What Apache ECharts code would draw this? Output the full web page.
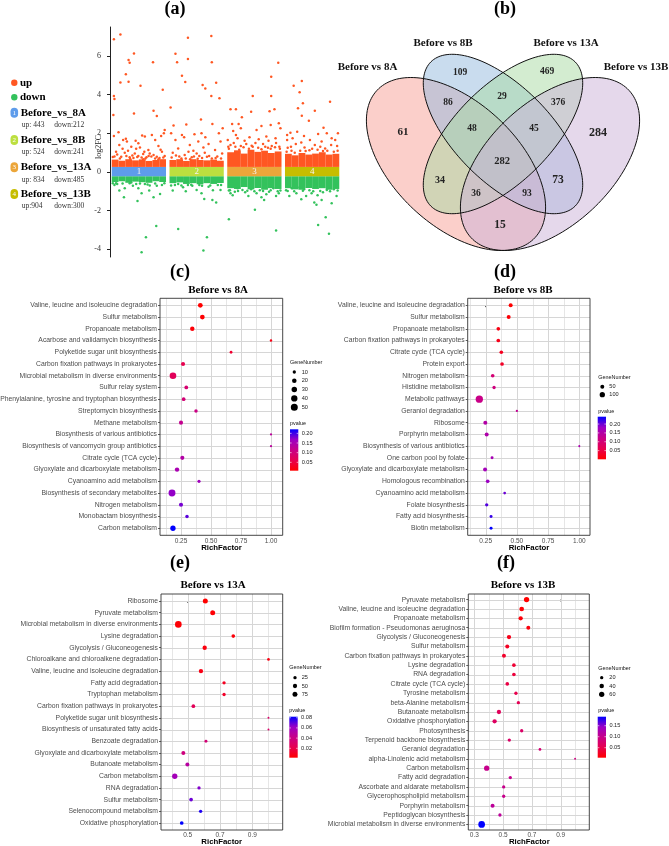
<!DOCTYPE html>
<html>
<head>
<meta charset="utf-8">
<script src="https://cdn.jsdelivr.net/npm/echarts@6.0.0/dist/echarts.min.js"></script>
<style>
html,body{margin:0;padding:0;background:#ffffff;}
#chart{width:669px;height:846px;}
</style>
</head>
<body>
<div id="chart"></div>
<script>
// ================= DATA =================
// ---- Panel (a): log2FC scatter per comparison ----
const groupNames = ['Before_vs_8A', 'Before_vs_8B', 'Before_vs_13A', 'Before_vs_13B'];
const groupUp = [443, 524, 834, 904];
const groupDown = [212, 241, 485, 300];
const aTickValues = [-4, -2, 0, 2, 4, 6];
const bandLimits = [-0.22, 0.26];
// scattered points: [position inside group (0-1), log2FC]
const up1 = [[0.04,6.86],[0.16,7.11],[0.41,6.13],[0.31,5.79],[0.33,5.65],[0.76,5.67],[0.26,5.05],[0.16,4.63],[0.31,4.67],[0.53,4.46],[0.94,4.25],[0.04,3.93],[0.05,3.77],[0.77,3.17],[0.83,2.89],[0.41,3.03],[0.03,2.95],[0.125,2.05],[0.04,1.86],[0.56,1.88],[0.74,1.91],[0.91,1.86],[0.975,2.17],[0.96,2.0],[0.26,1.72],[0.21,1.65],[0.28,1.57],[0.44,1.62],[0.49,1.48],[0.61,1.83],[0.8,1.65],[0.86,1.34],[0.14,1.4],[0.36,1.31],[0.52,1.26],[0.675,1.14],[0.08,1.05],[0.24,1.0],[0.425,0.96],[0.58,0.93],[0.77,0.88],[0.925,1.05],[0.175,0.79],[0.33,0.76],[0.49,0.83],[0.64,0.76],[0.83,0.79],[0.975,0.83],[0.1,0.9],[0.3,1.1],[0.45,1.2],[0.6,1.05],[0.7,0.95],[0.9,1.15],[0.2,1.2],[0.55,0.75],[0.05,0.8],[0.68,0.82],[0.88,0.72],[0.38,0.85],[0.02,0.78],[0.15,0.7],[0.27,0.82],[0.4,0.72],[0.47,0.78],[0.62,0.7],[0.73,0.8],[0.8,0.7],[0.95,0.75],[0.34,0.68],[0.58,0.66],[0.86,0.66]];
const down1 = [[0.05,-0.67],[0.14,-0.96],[0.24,-0.84],[0.39,-0.72],[0.225,-1.31],[0.475,-1.5],[0.69,-0.96],[0.77,-1.31],[0.89,-1.14],[0.55,-1.1],[0.82,-2.79],[0.63,-3.38],[0.55,-4.15],[0.33,-0.59],[0.61,-0.62],[0.925,-0.67],[0.83,-0.72],[0.02,-0.59],[0.49,-0.84],[0.1,-0.62],[0.7,-0.7],[0.45,-0.62],[0.08,-0.58],[0.2,-0.6],[0.36,-0.55],[0.52,-0.6],[0.66,-0.65],[0.8,-0.6],[0.97,-0.58]];
const up2 = [[0.34,6.94],[0.77,7.03],[0.11,6.12],[0.14,5.67],[0.34,5.84],[0.78,5.67],[0.23,4.98],[0.29,4.65],[0.61,4.5],[0.66,4.32],[0.86,4.62],[0.77,3.93],[0.92,3.81],[0.02,3.34],[0.58,2.72],[0.075,2.41],[0.31,2.46],[0.79,2.48],[0.98,2.26],[0.03,2.0],[0.23,1.91],[0.27,1.79],[0.46,1.95],[0.59,2.0],[0.66,1.79],[0.91,2.0],[0.11,1.65],[0.375,1.4],[0.53,1.57],[0.72,1.45],[0.94,1.57],[0.16,1.22],[0.44,1.1],[0.625,1.27],[0.84,1.14],[0.06,1.0],[0.28,0.88],[0.5,0.96],[0.69,0.79],[0.97,0.96],[0.22,0.7],[0.41,0.76],[0.78,0.7],[0.12,0.85],[0.55,0.82],[0.88,0.8],[0.35,1.05],[0.65,1.0],[0.04,0.75],[0.18,0.8],[0.3,0.7],[0.45,0.8],[0.6,0.72],[0.73,0.82],[0.85,0.72],[0.95,0.7],[0.38,0.66],[0.52,0.68]];
const down2 = [[0.06,-0.96],[0.25,-0.79],[0.16,-0.62],[0.42,-0.72],[0.5,-0.93],[0.59,-1.1],[0.64,-1.4],[0.79,-1.45],[0.86,-1.58],[0.72,-0.76],[0.94,-0.93],[0.16,-2.95],[0.69,-3.38],[0.625,-4.07],[0.34,-0.67],[0.89,-0.67],[0.03,-0.7],[0.55,-0.68],[0.3,-1.0],[0.8,-0.95],[0.1,-0.68],[0.22,-0.7],[0.4,-0.66],[0.6,-0.72],[0.75,-0.7],[0.95,-0.68]];
const up3 = [[0.94,5.65],[0.81,4.93],[0.47,3.93],[0.81,3.93],[0.06,3.24],[0.16,3.24],[0.44,3.12],[0.78,3.14],[0.27,2.83],[0.87,3.24],[0.95,2.52],[0.98,2.26],[0.09,2.48],[0.21,2.48],[0.25,2.26],[0.63,2.38],[0.8,2.43],[0.11,2.12],[0.16,1.91],[0.54,2.17],[0.72,1.83],[0.01,1.65],[0.19,1.74],[0.32,1.62],[0.41,1.79],[0.58,1.69],[0.76,1.62],[0.89,1.74],[0.06,1.4],[0.25,1.34],[0.47,1.31],[0.66,1.45],[0.82,1.34],[0.96,1.31],[0.12,1.5],[0.35,1.45],[0.52,1.5],[0.9,1.5],[0.02,1.3],[0.7,1.3],[0.03,1.2],[0.15,1.3],[0.22,1.15],[0.3,1.28],[0.4,1.2],[0.45,1.35],[0.57,1.25],[0.63,1.18],[0.75,1.25],[0.8,1.2],[0.88,1.28],[0.97,1.2]];
const down3 = [[0.06,-1.1],[0.03,-0.96],[0.14,-1.02],[0.28,-0.93],[0.39,-1.24],[0.54,-1.1],[0.63,-1.31],[0.68,-1.45],[0.77,-1.02],[0.9,-1.24],[0.98,-0.96],[0.51,-1.96],[0.03,-2.45],[0.9,-3.03],[0.19,-0.84],[0.44,-0.9],[0.85,-0.84],[0.33,-1.05],[0.6,-0.95],[0.72,-1.15],[0.1,-1.2],[0.95,-1.1],[0.05,-0.95],[0.2,-0.98],[0.37,-0.97],[0.5,-1.0],[0.66,-0.98],[0.8,-0.95],[0.93,-1.0]];
const up4 = [[0.16,4.46],[0.31,4.7],[0.27,4.12],[0.33,3.55],[0.24,3.29],[0.31,2.91],[0.55,3.17],[0.83,3.63],[0.44,2.65],[0.71,2.29],[0.975,2.0],[0.925,1.65],[0.04,1.91],[0.1,2.03],[0.225,2.08],[0.35,1.86],[0.61,1.96],[0.77,2.0],[0.04,1.65],[0.14,1.74],[0.3,1.52],[0.46,1.65],[0.675,1.57],[0.86,1.74],[0.11,1.31],[0.36,1.27],[0.55,1.4],[0.74,1.22],[0.96,1.34],[0.2,1.45],[0.5,1.2],[0.85,1.4],[0.05,1.25],[0.65,1.3],[0.03,1.05],[0.12,1.1],[0.18,1.0],[0.28,1.1],[0.38,1.08],[0.45,1.12],[0.6,1.15],[0.7,1.08],[0.78,1.1],[0.9,1.05],[0.97,1.1]];
const down4 = [[0.08,-1.24],[0.21,-1.1],[0.3,-1.41],[0.39,-1.24],[0.49,-1.1],[0.54,-1.58],[0.58,-1.7],[0.675,-1.45],[0.86,-1.62],[0.95,-1.24],[0.77,-0.93],[0.125,-0.84],[0.35,-0.9],[0.61,-2.74],[0.75,-2.34],[0.81,-3.2],[0.27,-0.79],[0.45,-0.95],[0.7,-1.05],[0.9,-0.9],[0.02,-0.95],[0.6,-1.2],[0.05,-0.98],[0.17,-1.0],[0.33,-0.97],[0.52,-1.0],[0.65,-0.98],[0.83,-1.0],[0.97,-0.96]];
// densely packed core (top of up cloud / bottom of down cloud) per slice of each group
const upCore = [
  [0.64,0.58,0.66,0.60,0.65,0.57,0.62,0.66],
  [0.62,0.66,0.57,0.66,0.62,0.60,0.64,0.58],
  [1.02,1.12,0.95,1.15,1.04,1.10,0.98,1.06],
  [0.94,0.86,0.98,0.90,0.95,1.02,0.90,0.94]];
const downCore = [
  [-0.52,-0.48,-0.56,-0.50,-0.53,-0.56,-0.48,-0.52],
  [-0.58,-0.54,-0.62,-0.58,-0.64,-0.58,-0.62,-0.57],
  [-0.84,-0.88,-0.78,-0.90,-0.83,-0.92,-0.84,-0.88],
  [-0.84,-0.90,-0.92,-0.83,-0.88,-0.84,-0.92,-0.88]];

// ---- Panel (b): Venn ----
const vennSetNames = ['Before vs 8A', 'Before vs 8B', 'Before vs 13A', 'Before vs 13B'];
const vennRegions = ['A','B','C','D','AB','BC','CD','ABC','BCD','ABCD','AC','BD','ACD','ABD','AD'];
const vennCounts = [61, 109, 469, 284, 86, 29, 376, 48, 45, 282, 34, 73, 36, 93, 15];

// ---- Panel (c): Before vs 8A ----
const catsC = ['Valine, leucine and isoleucine degradation','Sulfur metabolism','Propanoate metabolism','Acarbose and validamycin biosynthesis','Polyketide sugar unit biosynthesis','Carbon fixation pathways in prokaryotes','Microbial metabolism in diverse environments','Sulfur relay system','Phenylalanine, tyrosine and tryptophan biosynthesis','Streptomycin biosynthesis','Methane metabolism','Biosynthesis of various antibiotics','Biosynthesis of vancomycin group antibiotics','Citrate cycle (TCA cycle)','Glyoxylate and dicarboxylate metabolism','Cyanoamino acid metabolism','Biosynthesis of secondary metabolites','Nitrogen metabolism','Monobactam biosynthesis','Carbon metabolism'];
const richC = [0.411,0.428,0.344,1.0,0.667,0.267,0.183,0.294,0.272,0.375,0.25,1.0,1.0,0.261,0.217,0.4,0.175,0.25,0.3,0.183];
const genesC = [22,22,19,5,7,16,45,13,13,11,16,4,4,16,19,9,49,16,11,28];
const pvalC = [0.0066,0.008,0.012,0.02,0.04,0.06,0.07,0.09,0.095,0.11,0.12,0.13,0.13,0.14,0.15,0.16,0.17,0.18,0.19,0.221];

// ---- Panel (d): Before vs 8B ----
const catsD = ['Valine, leucine and isoleucine degradation','Sulfur metabolism','Propanoate metabolism','Carbon fixation pathways in prokaryotes','Citrate cycle (TCA cycle)','Protein export','Nitrogen metabolism','Histidine metabolism','Metabolic pathways','Geraniol degradation','Ribosome','Porphyrin metabolism','Biosynthesis of various antibiotics','One carbon pool by folate','Glyoxylate and dicarboxylate metabolism','Homologous recombination','Cyanoamino acid metabolism','Folate biosynthesis','Fatty acid biosynthesis','Biotin metabolism'];
const richD = [0.45,0.434,0.351,0.351,0.375,0.381,0.306,0.317,0.199,0.5,0.247,0.258,1.0,0.301,0.245,0.266,0.402,0.258,0.293,0.293];
const genesD = [50,50,40,40,40,40,40,31,212,11,50,50,7,23,50,40,17,31,23,23];
const pvalD = [0.001,0.006,0.015,0.02,0.025,0.03,0.1,0.11,0.12,0.13,0.15,0.155,0.16,0.165,0.17,0.18,0.2,0.21,0.22,0.2415];

// ---- Panel (e): Before vs 13A ----
const catsE = ['Ribosome','Pyruvate metabolism','Microbial metabolism in diverse environments','Lysine degradation','Glycolysis / Gluconeogenesis','Chloroalkane and chloroalkene degradation','Valine, leucine and isoleucine degradation','Fatty acid degradation','Tryptophan metabolism','Carbon fixation pathways in prokaryotes','Polyketide sugar unit biosynthesis','Biosynthesis of unsaturated fatty acids','Benzoate degradation','Glyoxylate and dicarboxylate metabolism','Butanoate metabolism','Carbon metabolism','RNA degradation','Sulfur metabolism','Selenocompound metabolism','Oxidative phosphorylation'];
const richE = [0.609,0.655,0.442,0.782,0.605,1.0,0.582,0.725,0.725,0.535,1.0,1.0,0.613,0.473,0.498,0.42,0.57,0.521,0.58,0.463];
const genesE = [75,75,150,33,52,13,52,25,25,33,4,4,18,42,42,88,25,33,25,33];
const pvalE = [0.0016,0.0025,0.003,0.004,0.005,0.006,0.007,0.01,0.012,0.025,0.03,0.03,0.035,0.038,0.05,0.058,0.065,0.068,0.078,0.082];

// ---- Panel (f): Before vs 13B ----
const catsF = ['Pyruvate metabolism','Valine, leucine and isoleucine degradation','Propanoate metabolism','Biofilm formation - Pseudomonas aeruginosa','Glycolysis / Gluconeogenesis','Sulfur metabolism','Carbon fixation pathways in prokaryotes','Lysine degradation','RNA degradation','Citrate cycle (TCA cycle)','Tyrosine metabolism','beta-Alanine metabolism','Butanoate metabolism','Oxidative phosphorylation','Photosynthesis','Terpenoid backbone biosynthesis','Geraniol degradation','alpha-Linolenic acid metabolism','Carbon metabolism','Fatty acid degradation','Ascorbate and aldarate metabolism','Glycerophospholipid metabolism','Porphyrin metabolism','Peptidoglycan biosynthesis','Microbial metabolism in diverse environments'];
const richF = [0.663,0.629,0.622,0.675,0.541,0.529,0.506,0.575,0.575,0.529,0.589,0.606,0.471,0.441,0.629,0.543,0.756,1.0,0.386,0.55,0.504,0.504,0.427,0.478,0.351];
const genesF = [60,45,37,31,37,31,31,25,25,25,20,20,37,37,20,20,12,5,60,20,20,20,31,20,99];
const pvalF = [0.0045,0.008,0.01,0.012,0.02,0.025,0.03,0.035,0.04,0.045,0.05,0.055,0.06,0.065,0.07,0.07,0.08,0.09,0.1,0.1,0.1,0.1,0.11,0.11,0.191];

// ================= STYLE / LAYOUT =================
const SERIF = '"Liberation Serif","Times New Roman",serif';
const SANS = '"Liberation Sans",Arial,sans-serif';
const PALETTE = ['#ff0000', '#e7004f', '#c80088', '#9b00c4', '#0000ff'];
const UP_COLOR = '#ff5722';
const DOWN_COLOR = '#33c25c';
const BAND_COLORS = ['#5e9ceb', '#bcdf3f', '#eca63a', '#c6bd00'];
const GROUP_PAD = 0.03, GROUP_W = 0.94;
const GRID_MAJOR = '#d6d6d6', GRID_MINOR = '#e6e6e6';

function txt(x, y, text, size, o) {
  o = o || {};
  return {
    type: 'text', x: x, y: y, rotation: o.rotation || 0, silent: true, z: 50,
    style: {
      text: text, x: 0, y: 0,
      font: (o.bold ? 'bold ' : '') + size + 'px ' + (o.family || SERIF),
      fill: o.color || '#000',
      textAlign: o.align || 'center',
      textVerticalAlign: 'middle', verticalAlign: 'middle'
    }
  };
}

const grids = [], xAxes = [], yAxes = [], series = [], visualMaps = [], graphics = [];

// ================= Panel (a) =================
grids.push({left: 110, top: 27, width: 231, height: 230, show: false, containLabel: false, outerBoundsMode: 'none'});
xAxes.push({gridIndex: 0, type: 'value', min: 0, max: 4, show: false});
yAxes.push({
  gridIndex: 0, type: 'value', min: -4.4, max: 7.5,
  axisLine: {show: true, onZero: false, lineStyle: {color: '#222', width: 1}},
  axisTick: {show: true, length: 3, customValues: aTickValues, lineStyle: {color: '#222'}},
  axisLabel: {customValues: aTickValues, fontFamily: SERIF, fontSize: 8, color: '#333', margin: 9},
  splitLine: {show: false}
});
const aBlocks = [];
for (let g = 0; g < 4; g++) {
  const n = upCore[g].length, w = GROUP_W / n;
  for (let s = 0; s < n; s++) {
    const x0 = g + GROUP_PAD + s * w;
    aBlocks.push([x0, x0 + w, bandLimits[1], upCore[g][s], 0, g]);
    aBlocks.push([x0, x0 + w, downCore[g][s], bandLimits[0], 1, g]);
  }
  aBlocks.push([g + GROUP_PAD, g + GROUP_PAD + GROUP_W, bandLimits[0], bandLimits[1], 2, g]);
}
series.push({
  type: 'custom', xAxisIndex: 0, yAxisIndex: 0, z: 2, silent: true,
  encode: {x: [0, 1], y: [2, 3]}, data: aBlocks,
  renderItem: function (params, api) {
    const x0 = api.value(0), x1 = api.value(1), y0 = api.value(2), y1 = api.value(3);
    const kind = api.value(4), g = api.value(5);
    const p0 = api.coord([x0, y1]), p1 = api.coord([x1, y0]);
    const fill = kind === 0 ? UP_COLOR : (kind === 1 ? DOWN_COLOR : BAND_COLORS[g]);
    const rect = {type: 'rect', shape: {x: p0[0], y: p0[1], width: p1[0] - p0[0], height: p1[1] - p0[1]}, style: {fill: fill}};
    if (kind !== 2) return rect;
    return {type: 'group', children: [rect, {type: 'text', style: {
      text: String(g + 1), x: (p0[0] + p1[0]) / 2, y: (p0[1] + p1[1]) / 2,
      font: '9px ' + SERIF, fill: '#f4f4f4', textAlign: 'center', textVerticalAlign: 'middle', verticalAlign: 'middle'}}]};
  }
});
const upSets = [up1, up2, up3, up4], downSets = [down1, down2, down3, down4];
const toX = (g, p) => [g + GROUP_PAD + p[0] * GROUP_W, p[1]];
const upPts = [], downPts = [];
upSets.forEach((arr, g) => arr.forEach(p => upPts.push(toX(g, p))));
downSets.forEach((arr, g) => arr.forEach(p => downPts.push(toX(g, p))));
series.push({type: 'scatter', xAxisIndex: 0, yAxisIndex: 0, z: 3, silent: true, symbolSize: 2.5, itemStyle: {color: UP_COLOR, opacity: 1}, data: upPts});
series.push({type: 'scatter', xAxisIndex: 0, yAxisIndex: 0, z: 3, silent: true, symbolSize: 2.5, itemStyle: {color: DOWN_COLOR, opacity: 1}, data: downPts});

graphics.push(txt(175, 9, '(a)', 18, {bold: true}));
graphics.push(txt(99, 147, 'log2FC', 8, {rotation: Math.PI / 2, color: '#222'}));
// legend of panel a
graphics.push({type: 'circle', silent: true, z: 50, shape: {cx: 14.3, cy: 82.7, r: 3.2}, style: {fill: UP_COLOR}});
graphics.push(txt(20, 82.7, 'up', 11, {bold: true, align: 'left'}));
graphics.push({type: 'circle', silent: true, z: 50, shape: {cx: 14.3, cy: 97.3, r: 3.2}, style: {fill: DOWN_COLOR}});
graphics.push(txt(20, 97.3, 'down', 11, {bold: true, align: 'left'}));
const legendY = [112.7, 140, 167.3, 194];
const subSep = [' ', ' ', ' ', ''];
groupNames.forEach((name, i) => {
  const y = legendY[i];
  graphics.push({type: 'rect', silent: true, z: 50, shape: {x: 10.5, y: y - 5, width: 7.6, height: 10, r: 3.8}, style: {fill: BAND_COLORS[i]}});
  graphics.push(txt(14.3, y + 0.3, String(i + 1), 7, {color: '#ffffff'}));
  graphics.push(txt(20.7, y, name, 11, {bold: true, align: 'left'}));
  graphics.push(txt(21.7, y + 12.3, 'up:' + subSep[i] + groupUp[i], 7.5, {align: 'left', color: '#333'}));
  graphics.push(txt(54.3, y + 12.3, 'down:' + groupDown[i], 7.5, {align: 'left', color: '#333'}));
});

// ================= Panel (b): Venn =================
graphics.push(txt(505, 9, '(b)', 18, {bold: true}));
const vennShapes = [  // cx, cy, a, b, angle (deg, screen)
  [456, 164, 108, 62, 43],
  [503, 134, 102, 48, 45],
  [503, 134, 102, 48, -45],
  [550, 164, 108, 62, -43]];
const vennFill = ['rgba(247,160,150,0.5)', 'rgba(147,185,221,0.5)', 'rgba(167,217,161,0.5)', 'rgba(203,177,215,0.5)'];
function ellipsePts(e) {
  const pts = [], ph = e[4] * Math.PI / 180;
  for (let i = 0; i < 160; i++) {
    const t = i / 160 * 2 * Math.PI;
    const u = e[2] * Math.cos(t), v = e[3] * Math.sin(t);
    pts.push([e[0] + u * Math.cos(ph) - v * Math.sin(ph), e[1] + u * Math.sin(ph) + v * Math.cos(ph)]);
  }
  return pts;
}
vennShapes.forEach((e, i) => graphics.push({type: 'polygon', silent: true, z: 10, shape: {points: ellipsePts(e)}, style: {fill: vennFill[i], stroke: 'none'}}));
vennShapes.forEach((e) => graphics.push({type: 'polygon', silent: true, z: 11, shape: {points: ellipsePts(e)}, style: {fill: 'none', stroke: '#111', lineWidth: 1}}));
const vennLabelPos = {A: [403, 132, 11], B: [460, 73, 9.5], C: [547, 72, 9.5], D: [598, 133, 12], AB: [448, 103, 9.5], BC: [502, 97, 9.5], CD: [558, 103, 9.5], ABC: [472, 129, 9.5], BCD: [534, 129, 9.5], ABCD: [502, 161, 10.5], AC: [440, 180, 10], BD: [558, 180, 11.5], ACD: [476, 194, 9.5], ABD: [527, 194, 9.5], AD: [500, 225, 11.5]};
vennRegions.forEach((r, i) => {
  const p = vennLabelPos[r];
  graphics.push(txt(p[0], p[1], String(vennCounts[i]), p[2], {bold: true, color: '#222'}));
});
const vennSetPos = [[367.5, 66.7], [443, 43], [566, 43], [636, 66.7]];
vennSetNames.forEach((n, i) => graphics.push(txt(vennSetPos[i][0], vennSetPos[i][1], n, 11, {bold: true, color: '#111'})));

// ================= Bubble panels (c)-(f) =================
const bubblePanels = [
  {cats: catsC, rich: richC, genes: genesC, pv: pvalC, tag: ['(c)', 180, 272], title: ['Before vs 8A', 218, 290],
   grid: {left: 160, top: 298.3, width: 122.7, height: 237}, xmin: 0.075, xmax: 1.0975,
   xMajor: [0.25, 0.5, 0.75, 1.0], xMinor: [0.125, 0.375, 0.625, 0.875], dec: 2,
   pTicks: [0.05, 0.10, 0.15, 0.20], geneTicks: [10, 20, 30, 40, 50], size: [0.31, 0.946], xname: [221.5, 548],
   lg: {gx: 290, gy: 363, ix: 294.3, tx: 301.7, iy0: 372, istep: 8.8, py: 424, bx: 290, bw: 8.3, by: 429.3, bh: 41.4}},
  {cats: catsD, rich: richD, genes: genesD, pv: pvalD, tag: ['(d)', 505, 272], title: ['Before vs 8B', 523, 290],
   grid: {left: 467.7, top: 298.3, width: 122.3, height: 237}, xmin: 0.1058, xmax: 1.0857,
   xMajor: [0.25, 0.5, 0.75, 1.0], xMinor: [0.125, 0.375, 0.625, 0.875], dec: 2,
   pTicks: [0.05, 0.10, 0.15, 0.20], geneTicks: [50, 100], size: [0.86, 0.444], xname: [529, 548],
   lg: {gx: 598.3, gy: 377.3, ix: 602.3, tx: 609.3, iy0: 386.7, istep: 8, py: 411.7, bx: 597.7, bw: 8.3, by: 416.7, bh: 42.6}},
  {cats: catsE, rich: richE, genes: genesE, pv: pvalE, tag: ['(e)', 180, 563], title: ['Before vs 13A', 213, 585],
   grid: {left: 161, top: 594, width: 121.7, height: 236}, xmin: 0.3347, xmax: 1.088,
   xMajor: [0.5, 0.7, 0.9], xMinor: [0.4, 0.6, 0.8, 1.0], dec: 1,
   pTicks: [0.02, 0.04, 0.06, 0.08], geneTicks: [25, 50, 75], size: [1.05, 0.456], xname: [221.7, 842.3],
   lg: {gx: 289.3, gy: 667.7, ix: 295, tx: 301.7, iy0: 677.7, istep: 8.3, py: 711, bx: 289.3, bw: 8.4, by: 716.7, bh: 41}},
  {cats: catsF, rich: richF, genes: genesF, pv: pvalF, tag: ['(f)', 506, 563], title: ['Before vs 13B', 523, 585],
   grid: {left: 468.3, top: 594, width: 121, height: 236}, xmin: 0.2583, xmax: 1.0986,
   xMajor: [0.3, 0.5, 0.7, 0.9], xMinor: [0.4, 0.6, 0.8, 1.0], dec: 1,
   pTicks: [0.05, 0.10, 0.15], geneTicks: [20, 40, 60], size: [0.6, 0.61], xname: [529.3, 842.3],
   lg: {gx: 598.3, gy: 668.3, ix: 601.7, tx: 609.3, iy0: 677.7, istep: 8.3, py: 711, bx: 597.7, bw: 8.3, by: 716.7, bh: 41}}
];

bubblePanels.forEach((P, k) => {
  const gi = k + 1;
  const n = P.cats.length;
  const idx = P.cats.map((c, i) => i);
  const sizeFn = g => P.size[0] + P.size[1] * Math.sqrt(g);
  const pMin = Math.min.apply(null, P.pv), pMax = Math.max.apply(null, P.pv);
  P.yMin = -0.6; P.yMax = n - 0.4; P.gi = gi; P.idx = idx;
  grids.push(Object.assign({show: false, containLabel: false, outerBoundsMode: 'none'}, P.grid));
  xAxes.push({
    gridIndex: gi, type: 'value', min: P.xmin, max: P.xmax,
    axisLine: {show: false},
    axisTick: {show: true, length: 1.8, customValues: P.xMajor, lineStyle: {color: '#333', width: 0.8}},
    axisLabel: {customValues: P.xMajor, formatter: v => Number(v).toFixed(P.dec), fontFamily: SANS, fontSize: 6.5, color: '#4d4d4d', margin: 2},
    splitLine: {show: false}
  });
  yAxes.push({
    gridIndex: gi, type: 'value', inverse: true, min: P.yMin, max: P.yMax,
    axisLine: {show: false},
    axisTick: {show: true, length: 2, customValues: idx, lineStyle: {color: '#333', width: 0.8}},
    axisLabel: {customValues: idx, formatter: v => P.cats[Math.round(v)], fontFamily: SANS, fontSize: 6.8, color: '#4d4d4d', margin: 3},
    splitLine: {show: false}
  });
  const sIdx = series.length;
  series.push({
    type: 'scatter', xAxisIndex: gi, yAxisIndex: gi, z: 5, zlevel: 1, silent: true,
    data: P.cats.map((c, i) => [P.rich[i], i, P.genes[i], P.pv[i]]),
    symbol: 'circle', symbolSize: v => sizeFn(v[2]), itemStyle: {opacity: 1}
  });
  visualMaps.push({type: 'continuous', show: false, seriesIndex: sIdx, dimension: 3, min: pMin, max: pMax, inRange: {color: PALETTE}});

  // titles
  graphics.push(txt(P.tag[1], P.tag[2], P.tag[0], 18, {bold: true}));
  graphics.push(txt(P.title[1], P.title[2], P.title[0], 11, {bold: true}));
  graphics.push(txt(P.xname[0], P.xname[1], 'RichFactor', 7.8, {bold: true, family: SANS}));
  // size legend
  const L = P.lg;
  graphics.push(txt(L.gx, L.gy, 'GeneNumber', 5.4, {align: 'left', family: SANS, color: '#111'}));
  P.geneTicks.forEach((g, j) => {
    const y = L.iy0 + j * L.istep;
    graphics.push({type: 'circle', silent: true, z: 50, shape: {cx: L.ix, cy: y, r: sizeFn(g) / 2}, style: {fill: '#000'}});
    graphics.push(txt(L.tx, y, String(g), 5.6, {align: 'left', family: SANS, color: '#222'}));
  });
  // colour bar
  graphics.push(txt(L.gx, L.py, 'pvalue', 5.4, {align: 'left', family: SANS, color: '#111'}));
  const stops = PALETTE.slice().reverse().map((c, j) => ({offset: j / (PALETTE.length - 1), color: c}));
  graphics.push({type: 'rect', silent: true, z: 50, shape: {x: L.bx, y: L.by, width: L.bw, height: L.bh},
    style: {fill: {type: 'linear', x: 0, y: 0, x2: 0, y2: 1, colorStops: stops}}});
  P.pTicks.forEach(t => {
    const y = L.by + L.bh - (t - pMin) / (pMax - pMin) * L.bh;
    graphics.push({type: 'line', silent: true, z: 51, shape: {x1: L.bx, y1: y, x2: L.bx + 1.6, y2: y}, style: {stroke: '#fff', lineWidth: 0.6}});
    graphics.push({type: 'line', silent: true, z: 51, shape: {x1: L.bx + L.bw - 1.6, y1: y, x2: L.bx + L.bw, y2: y}, style: {stroke: '#fff', lineWidth: 0.6}});
    graphics.push(txt(L.bx + L.bw + 3.4, y, t.toFixed(2), 5.6, {align: 'left', family: SANS, color: '#222'}));
  });
});

const chart = echarts.init(document.getElementById('chart'), null, {renderer: 'canvas'});
chart.setOption({
  animation: false,
  backgroundColor: '#ffffff',
  grid: grids, xAxis: xAxes, yAxis: yAxes,
  visualMap: visualMaps,
  series: series
});

// panel grid lines and border (theme_bw), positioned through each grid's axis scales, snapped to whole pixels
const snap = v => Math.round(v) + 0.5;
bubblePanels.forEach(P => {
  const finder = {gridIndex: P.gi};
  const c0 = chart.convertToPixel(finder, [P.xmin, P.yMin]), c1 = chart.convertToPixel(finder, [P.xmax, P.yMax]);
  const top = c0[1], bottom = c1[1], left = c0[0], right = c1[0];
  const vline = (v, color, w) => {
    const x = snap(chart.convertToPixel(finder, [v, 0])[0]);
    graphics.push({type: 'line', silent: true, z: 20, shape: {x1: x, y1: top, x2: x, y2: bottom}, style: {stroke: color, lineWidth: w}});
  };
  const hline = (i, color, w) => {
    const y = snap(chart.convertToPixel(finder, [P.xmin, i])[1]);
    graphics.push({type: 'line', silent: true, z: 20, shape: {x1: left, y1: y, x2: right, y2: y}, style: {stroke: color, lineWidth: w}});
  };
  P.xMinor.forEach(v => vline(v, GRID_MINOR, 1));
  P.xMajor.forEach(v => vline(v, GRID_MAJOR, 1));
  P.idx.forEach(i => hline(i, GRID_MAJOR, 1));
  graphics.push({type: 'rect', silent: true, z: 21, shape: {x: left, y: top, width: right - left, height: bottom - top},
    style: {fill: 'none', stroke: '#333', lineWidth: 0.9}});
});
chart.setOption({graphic: {elements: graphics}});
</script>
</body>
</html>
